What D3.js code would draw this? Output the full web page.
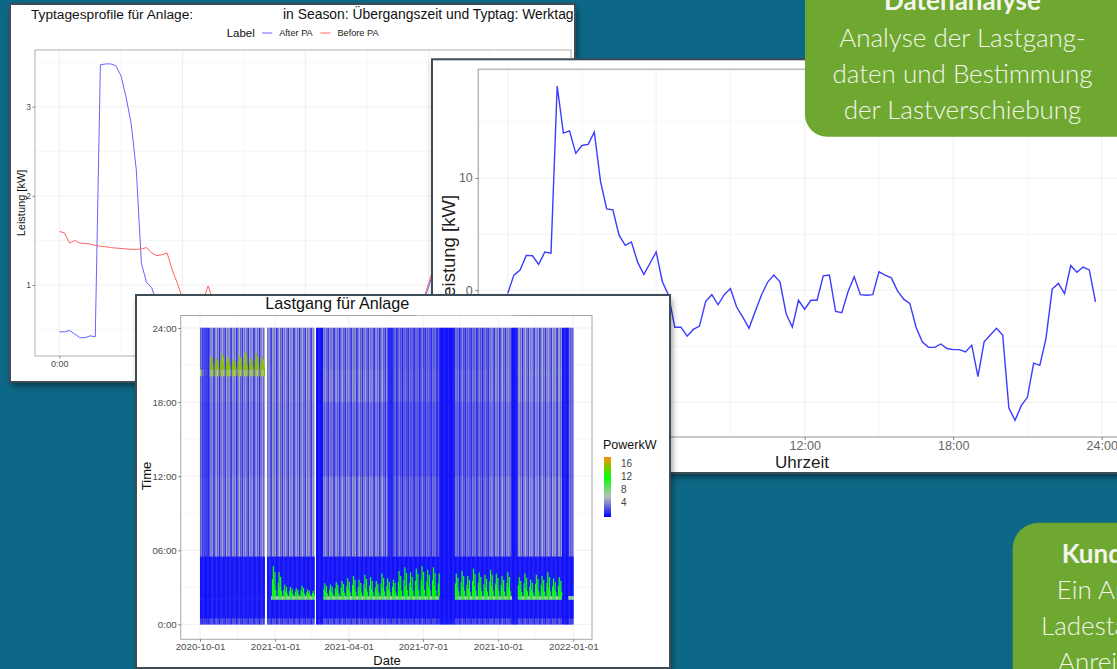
<!DOCTYPE html>
<html>
<head>
<meta charset="utf-8">
<script src="https://cdn.jsdelivr.net/npm/d3@7"></script>
<style>
  html, body { margin: 0; padding: 0; background: #0c6886; overflow: hidden; }
  svg { display: block; }
</style>
</head>
<body>
<div id="chart"></div>
<script>
// ---------- Typtagesprofile (top-left panel), 15-min values in kW ----------
const afterPA = [
  0.475, 0.475, 0.49, 0.45, 0.41, 0.41, 0.43, 0.42,
  3.47, 3.48, 3.48, 3.46, 3.35, 3.11, 2.81, 2.29,
  1.24, 1.03, 0.97, 0.80, 0.62, 0.55, 0.50, 0.46,
  0.43, 0.40, 0.38, 0.36, 0.36, 0.37, 0.38, 0.40,
  0.42, 0.45, 0.47, 0.46, 0.44, 0.43, 0.45, 0.48,
  0.50, 0.52, 0.50, 0.48, 0.47, 0.46, 0.45, 0.45,
  0.47, 0.50, 0.52, 0.55, 0.58, 0.60, 0.62, 0.60,
  0.58, 0.57, 0.58, 0.60, 0.62, 0.64, 0.66, 0.68,
  0.70, 0.72, 0.70, 0.68, 0.66, 0.70, 0.76, 0.81,
  0.98, 1.16, 1.35, 1.50, 1.60, 1.70, 1.75, 1.80,
  1.82, 1.80, 1.75, 1.70, 1.60, 1.50, 1.40, 1.30,
  1.20, 1.10, 1.00, 0.90, 0.80, 0.70, 0.60, 0.50
];
const beforePA = [
  1.60, 1.585, 1.47, 1.50, 1.47, 1.465, 1.46, 1.445,
  1.435, 1.43, 1.42, 1.415, 1.41, 1.405, 1.40, 1.40,
  1.405, 1.42, 1.36, 1.33, 1.34, 1.36, 1.17, 1.02,
  0.85, 0.72, 0.66, 0.74, 0.82, 0.99, 0.82, 0.72,
  0.68, 0.66, 0.65, 0.64, 0.64, 0.65, 0.66, 0.66,
  0.67, 0.68, 0.68, 0.67, 0.66, 0.66, 0.67, 0.68,
  0.68, 0.69, 0.70, 0.70, 0.71, 0.72, 0.72, 0.73,
  0.74, 0.74, 0.75, 0.76, 0.76, 0.77, 0.78, 0.78,
  0.79, 0.80, 0.80, 0.79, 0.78, 0.76, 0.78, 0.84,
  1.02, 1.20, 1.38, 1.52, 1.62, 1.68, 1.72, 1.74,
  1.75, 1.74, 1.72, 1.70, 1.66, 1.62, 1.58, 1.55,
  1.52, 1.50, 1.48, 1.46, 1.46, 1.48, 1.52, 1.56
];
const profileLabels = ['After PA', 'Before PA'];

// ---------- Leistung profile (right panel), 15-min values in kW ----------
const shiftPower = [
  -0.3, 1.34, 1.8, 3.1, 3.07, 2.3, 3.4, 3.3,
  18.2, 14.0, 14.2, 12.2, 12.9, 13.0, 14.1, 9.7,
  7.25, 7.16, 4.9, 4.0, 4.3, 2.5, 1.4, 2.4,
  3.4, 0.75, -0.45, -3.3, -3.3, -4.1, -3.5, -3.2,
  -1.0, -0.4, -1.3, -0.4, 0.15, -1.5, -2.4, -3.4,
  -1.9, -0.45, 0.7, 1.35, 0.75, -2.1, -3.3, -0.9,
  -1.7, -0.9, -0.9, 1.28, 1.34, -1.9, -2.0, -0.15,
  1.2, -0.4, -0.45, -0.4, 1.64, 1.34, 1.1, -0.06,
  -0.8, -1.2, -3.3, -4.6, -5.1, -5.1, -4.8, -5.2,
  -5.3, -5.3, -5.5, -4.9, -7.7, -4.6, -4.0, -3.4,
  -4.0, -10.5, -11.6, -10.3, -9.55, -6.5, -6.7, -4.3,
  0.1, 0.6, -0.3, 2.2, 1.6, 2.06, 1.8, -1.04
];

// ---------- Lastgang heatmap ----------
// time-of-day bands (hours)
const hmBandEdges = [0, 0.5, 2.0, 2.3, 5.5, 12, 18, 20.1, 20.65, 24];
// periods with a similar daily pattern; typical kW per band (null = no data)
const hmPeriodStart = [
  '2020-10-01', '2020-10-05', '2020-10-13', '2020-12-19', '2020-12-22', '2020-12-27',
  '2021-02-18', '2021-02-20', '2021-03-01', '2021-05-19', '2021-05-26', '2021-07-21',
  '2021-08-09', '2021-09-21', '2021-10-18', '2021-10-25', '2021-12-18', '2021-12-26'
];
const hmPeriodKW = [
  [2.2, 0.3, 0.3, 0.3, 4.1, 3.8, 4.1, 12.5, 4.1],
  [1.6, 0.0, 0.0, 0.0, 1.8, 1.6, 1.8, 2.2, 1.8],
  [2.2, 0.3, 0.3, 0.3, 4.1, 3.8, 4.1, 12.5, 4.3],
  null,
  [2.2, 0.3, 0.3, 0.3, 4.3, 4.1, 4.3, 4.3, 4.3],
  [2.2, 0.2, 9.0, 0.2, 4.3, 4.1, 4.3, 4.3, 4.3],
  null,
  [0.4, 0.0, 0.0, 0.0, 0.0, 0.0, 0.0, 0.0, 0.0],
  [2.2, 0.2, 9.0, 0.2, 4.1, 3.2, 4.1, 4.1, 3.8],
  [1.8, 0.1, 9.0, 0.1, 0.9, 0.8, 0.9, 0.9, 0.9],
  [1.8, 0.1, 9.5, 0.1, 3.0, 2.4, 3.0, 3.0, 2.8],
  [0.3, 0.0, 0.0, 0.0, 0.0, 0.0, 0.0, 0.0, 0.0],
  [1.8, 0.1, 9.5, 0.1, 3.2, 2.7, 3.3, 3.3, 3.0],
  [2.2, 0.2, 9.5, 0.2, 4.1, 3.5, 4.1, 4.1, 4.0],
  [0.4, 0.0, 0.0, 0.0, 0.0, 0.0, 0.0, 0.0, 0.0],
  [2.2, 0.2, 9.5, 0.2, 4.3, 3.8, 4.3, 4.6, 4.3],
  [0.4, 0.0, 0.0, 0.0, 0.3, 0.3, 0.3, 0.3, 0.3],
  [1.8, 0.1, 7.0, 0.1, 3.2, 3.2, 3.2, 3.2, 3.2]
];
// day-to-day variation by weekday (Sun..Sat), not used for the charging band (index 2)
const hmDayTexture = [0.15, 1.25, 0.6, 1.3, 0.45, 1.15, 0.3];
const hmTexturedBand = [true, true, false, true, true, true, true, true, true];
const hmWeekendCap = 6;
// charging peaks: start hour and kW per period (null = none)
const hmSpikeFrom = [20.65, null, 20.65, null, null, 2.3, null, null, 2.3, 2.3, 2.3, null, 2.3, 2.3, null, 2.3, null, null];
const hmSpikeKW = [15, null, 15, null, null, 11, null, null, 11, 11, 11.5, null, 11, 11, null, 11, null, null];
// peak duration (h) per week, weeks starting Monday 2020-09-28
const hmWeekSpike = [
  0, 0.6, 1.1, 0.9, 1.3, 1.0, 0.8, 1.2, 1.4, 0.9, 1.3, 1.0, 0,
  2.4, 1.9, 0.9, 0.7, 0.6, 0.8, 0.5, 0.4, 0,
  1.0, 0.9, 1.1, 1.2, 1.4, 1.6, 1.3, 1.7, 1.5, 1.2, 1.8, 1.4, 1.3,
  2.0, 2.3, 1.9, 2.2, 2.4, 2.1, 2.3, 1.8, 0, 0,
  1.8, 2.0, 1.6, 2.2, 1.9, 1.7, 2.1, 1.8, 1.6, 1.9,
  1.4, 1.5, 1.8, 1.3, 1.7, 1.6, 1.9, 1.4, 1.5, 0.8, 0.6
];
// share of the weekly peak by weekday (Sun..Sat)
const hmDayShape = [0, 0.55, 1, 0.35, 0.8, 0.2, 0];
const hmDateTicks = ['2020-10-01', '2021-01-01', '2021-04-01', '2021-07-01', '2021-10-01', '2022-01-01'];
const hmTimeTicks = [0, 6, 12, 18, 24];
const hmTimeLabels = ['0:00', '06:00', '12:00', '18:00', '24:00'];
const hmLimits = [-0.5, 17.8];
const hmLegendTicks = [4, 8, 12, 16];

const FONT = "'Liberation Sans', Arial, sans-serif";
const W = 1117, H = 669;

const svg = d3.select('#chart').append('svg').attr('width', W).attr('height', H);
svg.append('rect').attr('width', W).attr('height', H).attr('fill', '#0c6886');
const defs = svg.append('defs');
defs.append('filter').attr('id', 'shadow')
  .attr('x', '-10%').attr('y', '-10%').attr('width', '120%').attr('height', '120%')
  .append('feDropShadow')
  .attr('dx', 2).attr('dy', 4).attr('stdDeviation', 3)
  .attr('flood-color', '#000').attr('flood-opacity', 0.45);

// white card with clip; returns content group and a function to draw the border
function card(id, x, y, w, h) {
  defs.append('clipPath').attr('id', id).append('rect')
    .attr('x', x).attr('y', y).attr('width', w).attr('height', h);
  const outer = svg.append('g').attr('font-family', FONT);
  outer.append('rect').attr('x', x).attr('y', y).attr('width', w).attr('height', h)
    .attr('fill', '#fff').attr('filter', 'url(#shadow)');
  const g = outer.append('g').attr('clip-path', `url(#${id})`);
  const close = () => outer.append('rect').attr('x', x).attr('y', y).attr('width', w).attr('height', h)
    .attr('fill', 'none').attr('stroke', '#3e4c57').attr('stroke-width', 2);
  return { g, close };
}

function grid(g, x, y, xMajor, xMinor, yMajor, yMinor) {
  const [l, r] = x.range(), [b, t] = y.range();
  const add = (vals, vertical, color) => g.append('g').selectAll('line').data(vals).join('line')
    .attr('x1', d => vertical ? x(d) : l).attr('x2', d => vertical ? x(d) : r)
    .attr('y1', d => vertical ? b : y(d)).attr('y2', d => vertical ? t : y(d))
    .attr('stroke', color).attr('stroke-width', 0.8);
  add(xMinor, true, '#f4f4f4'); add(yMinor, false, '#f4f4f4');
  add(xMajor, true, '#ebebeb'); add(yMajor, false, '#ebebeb');
}

function styleAxis(sel, size, color) {
  sel.attr('font-family', FONT).attr('font-size', size);
  sel.select('.domain').remove();
  sel.selectAll('.tick line').attr('stroke', '#555').attr('stroke-width', 0.7);
  sel.selectAll('.tick text').attr('fill', color);
}

const padExtent = (vals) => {
  const e = d3.extent(vals), p = (e[1] - e[0]) * 0.05;
  return [e[0] - p, e[1] + p];
};
const quarterHours = d3.range(afterPA.length).map(i => i / 4);

// ================= Panel 1: Typtagesprofile =================
(function () {
  const c = card('clip1', 10, 4, 565, 378);
  const g = c.g;
  const x = d3.scaleLinear().domain(padExtent(quarterHours)).range([35, 571]);
  const y = d3.scaleLinear().domain(padExtent(afterPA.concat(beforePA))).range([356, 50]);
  grid(g, x, y, [0, 6, 12, 18], [3, 9, 15, 21], [1, 2, 3], [0.5, 1.5, 2.5, 3.5]);

  const line = d3.line().x((d, i) => x(quarterHours[i])).y(d => y(d));
  g.append('path').datum(afterPA).attr('d', line).attr('fill', 'none')
    .attr('stroke', '#6464ff').attr('stroke-width', 1);
  g.append('path').datum(beforePA).attr('d', line).attr('fill', 'none')
    .attr('stroke', '#ff6464').attr('stroke-width', 1);

  g.append('rect').attr('x', 35).attr('y', 50).attr('width', 536).attr('height', 306)
    .attr('fill', 'none').attr('stroke', '#b0b0b0').attr('stroke-width', 1);

  const ya = g.append('g').attr('transform', 'translate(35,0)')
    .call(d3.axisLeft(y).tickValues([1, 2, 3]).tickFormat(d3.format('d')).tickSize(2.5).tickPadding(1.5));
  styleAxis(ya, 8.5, '#4d4d4d');
  const xa = g.append('g').attr('transform', 'translate(0,356)')
    .call(d3.axisBottom(x).tickValues([0, 6, 12, 18]).tickFormat(d => d + ':00').tickSize(2.5).tickPadding(2));
  styleAxis(xa, 9, '#4d4d4d');

  g.append('text').attr('transform', 'translate(25,203) rotate(-90)').attr('text-anchor', 'middle')
    .attr('font-size', 11).attr('fill', '#111').text('Leistung [kW]');

  g.append('text').attr('x', 31).attr('y', 19).attr('font-size', 13.7).attr('fill', '#111')
    .text('Typtagesprofile für Anlage:');
  g.append('text').attr('x', 283).attr('y', 19).attr('font-size', 13.9).attr('fill', '#111')
    .text('in Season: Übergangszeit und Typtag: Werktag');

  // legend
  g.append('text').attr('x', 226.7).attr('y', 37).attr('font-size', 11.5).attr('fill', '#111').text('Label');
  const keyX = [262.2, 320.4], keyCol = ['#6464ff', '#ff6464'];
  profileLabels.forEach((lab, i) => {
    g.append('line').attr('x1', keyX[i]).attr('x2', keyX[i] + 10).attr('y1', 33).attr('y2', 33)
      .attr('stroke', keyCol[i]).attr('stroke-width', 1);
    g.append('text').attr('x', keyX[i] + 17).attr('y', 36.3).attr('font-size', 9.2).attr('fill', '#222').text(lab);
  });
  c.close();
})();

// ================= Panel 2: Leistung profile =================
(function () {
  const c = card('clip2', 432, 59.3, 720, 413.7);
  const g = c.g;
  const x = d3.scaleLinear().domain(padExtent(quarterHours)).range([478.3, 478.3 + 26.125 * 24.75]);
  const y = d3.scaleLinear().domain(padExtent(shiftPower)).range([437, 69.3]);
  grid(g, x, y, [0, 6, 12, 18, 24], [3, 9, 15, 21], [-10, 0, 10], [-5, 5, 15]);

  g.append('path').datum(shiftPower)
    .attr('d', d3.line().x((d, i) => x(quarterHours[i])).y(d => y(d)))
    .attr('fill', 'none').attr('stroke', '#3c3cff').attr('stroke-width', 1.4);

  g.append('rect').attr('x', 478.3).attr('y', 69.3).attr('width', x.range()[1] - 478.3).attr('height', 367.7)
    .attr('fill', 'none').attr('stroke', '#b8b8b8').attr('stroke-width', 1.5);

  const ya = g.append('g').attr('transform', 'translate(478.3,0)')
    .call(d3.axisLeft(y).tickValues([-10, 0, 10]).tickFormat(d3.format('d')).tickSize(3).tickPadding(2.5));
  styleAxis(ya, 12.5, '#666');
  // 00:00 and 06:00 lie under the heatmap card, only the visible labels are written
  const xa = g.append('g').attr('transform', 'translate(0,437)')
    .call(d3.axisBottom(x).tickValues([12, 18, 24])
      .tickFormat(d => String(d).padStart(2, '0') + ':00').tickSize(3).tickPadding(1.5));
  styleAxis(xa, 12.5, '#666');

  g.append('text').attr('transform', 'translate(454.5,251) rotate(-90)').attr('text-anchor', 'middle')
    .attr('font-size', 18.5).attr('fill', '#222').text('Leistung [kW]');
  g.append('text').attr('x', 802).attr('y', 468).attr('text-anchor', 'middle')
    .attr('font-size', 17).attr('fill', '#222').text('Uhrzeit');
  c.close();
})();

// ================= Panel 3: Lastgang heatmap =================
(function () {
  const c = card('clip3', 136, 295, 534, 373);
  const g = c.g;
  const parse = d3.utcParse('%Y-%m-%d');
  const tickDates = hmDateTicks.map(parse);
  const x = d3.scaleUtc().domain([tickDates[0], tickDates[tickDates.length - 1]]).range([200, 573.3]);
  const y = d3.scaleLinear().domain([0, 24]).range([624.3, 328]);
  const color = d3.scaleLinear()
    .domain(d3.range(4).map(i => hmLimits[0] + i * (hmLimits[1] - hmLimits[0]) / 3))
    .range(['#0000ff', '#bebebe', '#00ff00', '#ff8c00'])
    .interpolate(d3.interpolateRgb).clamp(true);

  // plot area extends beyond the tile range
  const left = 180.7, right = 592, plotTop = 315.5, bottom = 639.3;
  const minorDates = tickDates.slice(0, -1).map((d, i) => new Date((+d + +tickDates[i + 1]) / 2));
  const gx = d3.scaleUtc().domain([x.invert(left), x.invert(right)]).range([left, right]);
  const gy = d3.scaleLinear().domain([y.invert(bottom), y.invert(plotTop)]).range([bottom, plotTop]);
  grid(g, gx, gy, tickDates, minorDates, hmTimeTicks, [3, 9, 15, 21]);

  const periodDates = hmPeriodStart.map(parse);
  const weekOrigin = parse('2020-09-28');
  const cells = [], spikes = [];
  d3.utcDay.range(x.domain()[0], x.domain()[1]).forEach(day => {
    const p = d3.bisectRight(periodDates, day) - 1;
    const kw = hmPeriodKW[p];
    if (!kw) return;
    const dow = day.getUTCDay();
    const weekend = dow === 0 || dow === 6;
    const next = d3.utcDay.offset(day, 1);
    kw.forEach((v, b) => cells.push({
      day, next, t0: hmBandEdges[b], t1: hmBandEdges[b + 1],
      kw: hmTexturedBand[b] ? v * hmDayTexture[dow] : (weekend ? Math.min(v, hmWeekendCap) : v)
    }));
    if (hmSpikeFrom[p] != null && !weekend) {
      const wk = Math.floor((day - weekOrigin) / 864e5 / 7);
      const h = hmWeekSpike[wk] * hmDayShape[dow];
      if (h > 0) spikes.push({ day, next, t0: hmSpikeFrom[p], t1: hmSpikeFrom[p] + h, kw: hmSpikeKW[p] });
    }
  });
  const tiles = g.append('g');
  const drawTiles = (data) => tiles.append('g').selectAll('rect').data(data).join('rect')
    .attr('x', d => x(d.day)).attr('width', d => x(d.next) - x(d.day) + 0.45)
    .attr('y', d => y(d.t1) - 0.2).attr('height', d => y(d.t0) - y(d.t1) + 0.4)
    .attr('fill', d => color(d.kw));
  drawTiles(cells);
  drawTiles(spikes);

  g.append('rect').attr('x', left).attr('y', plotTop).attr('width', right - left).attr('height', bottom - plotTop)
    .attr('fill', 'none').attr('stroke', '#a8a8a8').attr('stroke-width', 1);

  const ya = g.append('g').attr('transform', `translate(${left},0)`)
    .call(d3.axisLeft(y).tickValues(hmTimeTicks).tickFormat((d, i) => hmTimeLabels[i]).tickSize(2.5).tickPadding(1.5));
  styleAxis(ya, 9.7, '#4d4d4d');
  const xa = g.append('g').attr('transform', `translate(0,${bottom})`)
    .call(d3.axisBottom(x).tickValues(tickDates).tickFormat(d3.utcFormat('%Y-%m-%d')).tickSize(2.5).tickPadding(1.5));
  styleAxis(xa, 9.7, '#4d4d4d');

  g.append('text').attr('transform', 'translate(150.5,476) rotate(-90)').attr('text-anchor', 'middle')
    .attr('font-size', 13).attr('fill', '#111').text('Time');
  g.append('text').attr('x', 387).attr('y', 664.5).attr('text-anchor', 'middle')
    .attr('font-size', 13).attr('fill', '#111').text('Date');

  g.append('text').attr('x', 265.3).attr('y', 308.5).attr('font-size', 16.2).attr('fill', '#111')
    .text('Lastgang für Anlage');
  g.append('rect').attr('x', 416.7).attr('y', 296.7).attr('width', 96.3).attr('height', 18.6).attr('fill', '#fff');

  // colour bar legend
  const ly = d3.scaleLinear().domain(hmLimits).range([517, 457]);
  const grad = defs.append('linearGradient').attr('id', 'hm-grad')
    .attr('x1', 0).attr('x2', 0).attr('y1', 1).attr('y2', 0);
  d3.range(21).forEach(i => {
    const v = hmLimits[0] + i * (hmLimits[1] - hmLimits[0]) / 20;
    grad.append('stop').attr('offset', `${i * 5}%`).attr('stop-color', color(v));
  });
  g.append('rect').attr('x', 604).attr('y', 457).attr('width', 7).attr('height', 60).attr('fill', 'url(#hm-grad)');
  g.append('text').attr('x', 603).attr('y', 448.5).attr('font-size', 12.5).attr('fill', '#111').text('PowerkW');
  g.selectAll('text.leg').data(hmLegendTicks).join('text').attr('class', 'leg')
    .attr('x', 621).attr('y', d => ly(d) + 3.6).attr('font-size', 10).attr('fill', '#444').text(d => d);
  c.close();
})();

// ================= green info boxes =================
const boxGreen = '#6ea830', boxText = '#f3f5ec';
const topBox = svg.append('g').attr('font-family', 'Lato, sans-serif');
topBox.append('rect').attr('x', 805).attr('y', -40).attr('width', 360).attr('height', 176.7).attr('rx', 22).attr('fill', boxGreen);
topBox.append('text').attr('x', 962.5).attr('y', 10).attr('text-anchor', 'middle').attr('font-size', 26)
  .attr('font-weight', 700).attr('fill', boxText).text('Datenanalyse');
['Analyse der Lastgang-', 'daten und Bestimmung', 'der Lastverschiebung'].forEach((t, i) => {
  topBox.append('text').attr('x', 962.5).attr('y', 46.7 + i * 36).attr('text-anchor', 'middle')
    .attr('font-size', 26).attr('font-weight', 300).attr('fill', boxText).text(t);
});

const botBox = svg.append('g').attr('font-family', 'Lato, sans-serif');
botBox.append('rect').attr('x', 1012.7).attr('y', 522.7).attr('width', 300).attr('height', 200).attr('rx', 26).attr('fill', boxGreen);
botBox.append('text').attr('x', 1061.7).attr('y', 563).attr('font-size', 26).attr('font-weight', 700)
  .attr('fill', boxText).text('Kundenanreiz');
[['Ein Anreiz für', 1056.7], ['Ladestationen', 1041], ['Anreize', 1058]].forEach(([t, xx], i) => {
  botBox.append('text').attr('x', xx).attr('y', 599 + i * 36).attr('font-size', 26).attr('font-weight', 300)
    .attr('fill', boxText).text(t);
});
</script>
</body>
</html>
